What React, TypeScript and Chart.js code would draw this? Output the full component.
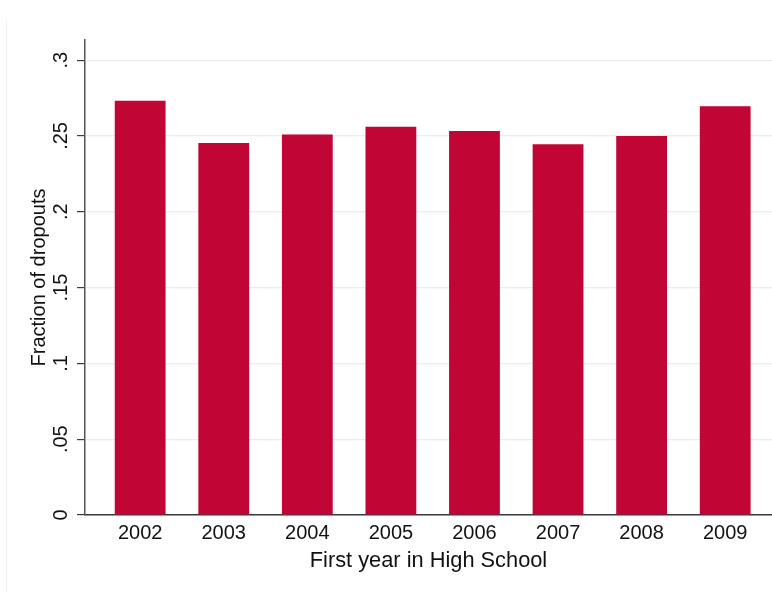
import React, { useEffect, useRef } from "react";
import { Chart, registerables } from "chart.js";

Chart.register(...registerables);

const years = [2002, 2003, 2004, 2005, 2006, 2007, 2008, 2009];
const dropoutFraction = [0.2733, 0.2454, 0.2509, 0.2561, 0.2533, 0.2445, 0.2500, 0.2696];
const yTickValues = [0, 0.05, 0.1, 0.15, 0.2, 0.25, 0.3];
const yTickLabels = ["0", ".05", ".1", ".15", ".2", ".25", ".3"];
const xTitle = "First year in High School";
const yTitle = "Fraction of dropouts";

const FONT = "'Liberation Sans', Arial, Helvetica, sans-serif";

export default function App() {
  const ref = useRef<HTMLCanvasElement | null>(null);

  useEffect(() => {
    if (!ref.current) return;
    const chart = new Chart(ref.current, {
      type: "bar",
      data: {
        datasets: [
          {
            data: years.map((y, i) => ({ x: y, y: dropoutFraction[i] })),
            backgroundColor: "#C10534",
            borderWidth: 0,
            barPercentage: 0.608,
            categoryPercentage: 1,
          },
        ],
      },
      options: {
        animation: false,
        responsive: false,
        devicePixelRatio: 1,
        layout: { padding: { top: 40, right: 0, bottom: 0, left: 0 } },
        plugins: { legend: { display: false }, tooltip: { enabled: false } },
        scales: {
          x: {
            type: "linear",
            min: 2001.34,
            max: 2009.56,
            offset: false,
            grid: { display: false, drawTicks: false },
            border: { display: true, color: "#3a3a3a", width: 1.5 },
            afterBuildTicks: (scale: any) => {
              scale.ticks = years.map((v) => ({ value: v }));
            },
            afterFit: (scale: any) => {
              scale.height = 77;
            },
            ticks: {
              padding: 6,
              color: "#111",
              font: { family: FONT, size: 20 },
              callback: (v: any) => String(v),
              maxRotation: 0,
              autoSkip: false,
            },
            title: {
              display: true,
              text: xTitle,
              color: "#111",
              font: { family: FONT, size: 21.8 },
              padding: { top: 0, bottom: 18 },
            },
          },
          y: {
            type: "linear",
            min: 0,
            max: 0.3133,
            grid: {
              color: "#e6eef0",
              lineWidth: 1.2,
              drawTicks: true,
              tickLength: 8,
              tickColor: "#3a3a3a",
              tickWidth: 1.2,
            },
            border: { display: true, color: "#555", width: 1.5 },
            afterBuildTicks: (scale: any) => {
              scale.ticks = yTickValues.map((v) => ({ value: v }));
            },
            afterFit: (scale: any) => {
              scale.width = 85;
            },
            ticks: {
              padding: 2,
              color: "#111",
              minRotation: 90,
              maxRotation: 90,
              crossAlign: "center",
              font: { family: FONT, size: 20 },
              callback: (v: any) => {
                const i = yTickValues.findIndex((t) => Math.abs(t - v) < 1e-9);
                return i >= 0 ? yTickLabels[i] : "";
              },
            },
            title: {
              display: true,
              text: yTitle,
              color: "#111",
              font: { family: FONT, size: 20 },
              padding: { top: 27, bottom: 0 },
            },
          },
        },
      },
    });
    return () => chart.destroy();
  }, []);

  return (
    <div style={{ position: "absolute", left: 0, top: 0, width: 772, height: 592, background: "#fff" }}>
      <div
        style={{
          position: "absolute",
          left: 6,
          top: 20,
          width: 0,
          height: 572,
          borderLeft: "1px solid #f0f2f2",
        }}
      />
      <canvas ref={ref} width={772} height={592} style={{ position: "absolute", left: 0, top: 0 }} />
    </div>
  );
}
